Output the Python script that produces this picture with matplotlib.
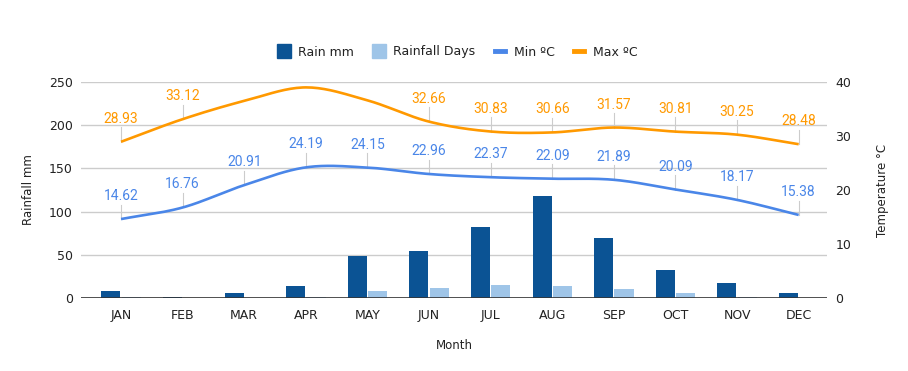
import numpy as np
import matplotlib
matplotlib.use("Agg")
from matplotlib import pyplot as plt
from matplotlib.lines import Line2D

plt.rcParams['font.family'] = ['DejaVu Sans']

months = ["JAN", "FEB", "MAR", "APR", "MAY", "JUN", "JUL", "AUG", "SEP", "OCT", "NOV", "DEC"]
rain_mm = [8, 1, 6, 14, 48.5, 54, 82, 118, 69, 32, 17, 6]
rain_days = [1, 0, 0, 1, 8, 12, 15, 14, 10, 6, 1, 0]
min_c = [14.62, 16.76, 20.91, 24.19, 24.15, 22.96, 22.37, 22.09, 21.89, 20.09, 18.17, 15.38]
max_c = [28.93, 33.12, 36.5, 39.0, 36.6, 32.66, 30.83, 30.66, 31.57, 30.81, 30.25, 28.48]
# google hid these labels (no room at the top)
max_hidden = [2, 3, 4]

dark = "#0b5394"
light = "#9fc5e8"
c_min = "#4a86e8"
c_max = "#ff9900"


def smooth(xs, ys, n=20):
    # catmull-rom curve through the points, only for drawing
    xs = np.asarray(xs, float)
    ys = np.asarray(ys, float)
    px = np.concatenate([[2 * xs[0] - xs[1]], xs, [2 * xs[-1] - xs[-2]]])
    py = np.concatenate([[2 * ys[0] - ys[1]], ys, [2 * ys[-1] - ys[-2]]])
    ox, oy = [], []
    t = np.linspace(0, 1, n, endpoint=False)
    for i in range(1, len(px) - 2):
        for arr, out in ((px, ox), (py, oy)):
            p0, p1, p2, p3 = arr[i - 1], arr[i], arr[i + 1], arr[i + 2]
            v = 0.5 * ((2 * p1) + (-p0 + p2) * t + (2 * p0 - 5 * p1 + 4 * p2 - p3) * t ** 2
                       + (-p0 + 3 * p1 - 3 * p2 + p3) * t ** 3)
            out.extend(v)
    ox.append(xs[-1])
    oy.append(ys[-1])
    return np.array(ox), np.array(oy)


fig = plt.figure(figsize=(9.08, 3.71), dpi=100)
ax = fig.add_axes([81 / 908, 1 - 298 / 371, 746 / 908, 216 / 371])
ax2 = ax.twinx()

x = np.arange(len(months))
w = 0.31
ax.bar(x - w / 2 - 0.01, rain_mm, w, color=dark, zorder=3)
ax.bar(x + w / 2 + 0.01, rain_days, w, color=light, zorder=3)

ax.set_xlim(-0.65, 11.46)
ax.set_ylim(0, 250)
ax.set_yticks([0, 50, 100, 150, 200, 250])
ax.set_xticks(x)
ax.set_xticklabels(months)
ax.grid(axis='y', color="#cccccc", lw=1, zorder=0)
for s in ax.spines.values():
    s.set_visible(False)
for s in ax2.spines.values():
    s.set_visible(False)
ax.axhline(0, color="#333333", lw=1.2, zorder=4)
ax.tick_params(axis='both', length=0, labelsize=9, colors="#222222")
ax.tick_params(axis='y', pad=6)
ax.tick_params(axis='x', pad=8)
ax.set_ylabel("Rainfall mm", fontsize=8.5, color="#222222", labelpad=10)
ax.set_xlabel("Month", fontsize=8.5, color="#222222", labelpad=12)

ax2.set_ylim(0, 40)
ax2.set_yticks([0, 10, 20, 30, 40])
ax2.tick_params(axis='y', length=0, labelsize=9, colors="#222222", pad=6)
ax2.set_ylabel("Temperature °C", fontsize=8.5, color="#222222", labelpad=18)

for vals, col in ((min_c, c_min), (max_c, c_max)):
    sx, sy = smooth(x, vals)
    ax2.plot(sx, sy, color=col, lw=1.9, zorder=5, solid_capstyle='butt')

off = 23 / 5.4
for vals, col, hidden in ((min_c, c_min, []), (max_c, c_max, max_hidden)):
    for i, v in enumerate(vals):
        if i in hidden:
            continue
        ax2.plot([i, i], [v, v + off - 1.6], color="#cccccc", lw=0.8, zorder=2)
        ax2.text(i, v + off, f"{v:.2f}", color=col, fontsize=10, ha='center', va='center',
                 zorder=6, family=['Roboto', 'DejaVu Sans'])

handles = [
    Line2D([], [], marker='s', ls='none', color=dark, markersize=10),
    Line2D([], [], marker='s', ls='none', color=light, markersize=10),
    Line2D([], [], color=c_min, lw=3.5),
    Line2D([], [], color=c_max, lw=3.5),
]
fig.legend(handles, ["Rain mm", "Rainfall Days", "Min ºC", "Max ºC"], loc='center',
           bbox_to_anchor=(0.505, 1 - 52 / 371), ncol=4, frameon=False, fontsize=9,
           handlelength=0.8, handletextpad=0.7, columnspacing=1.6, labelcolor="#222222")

fig.savefig("out.png", dpi=100)
